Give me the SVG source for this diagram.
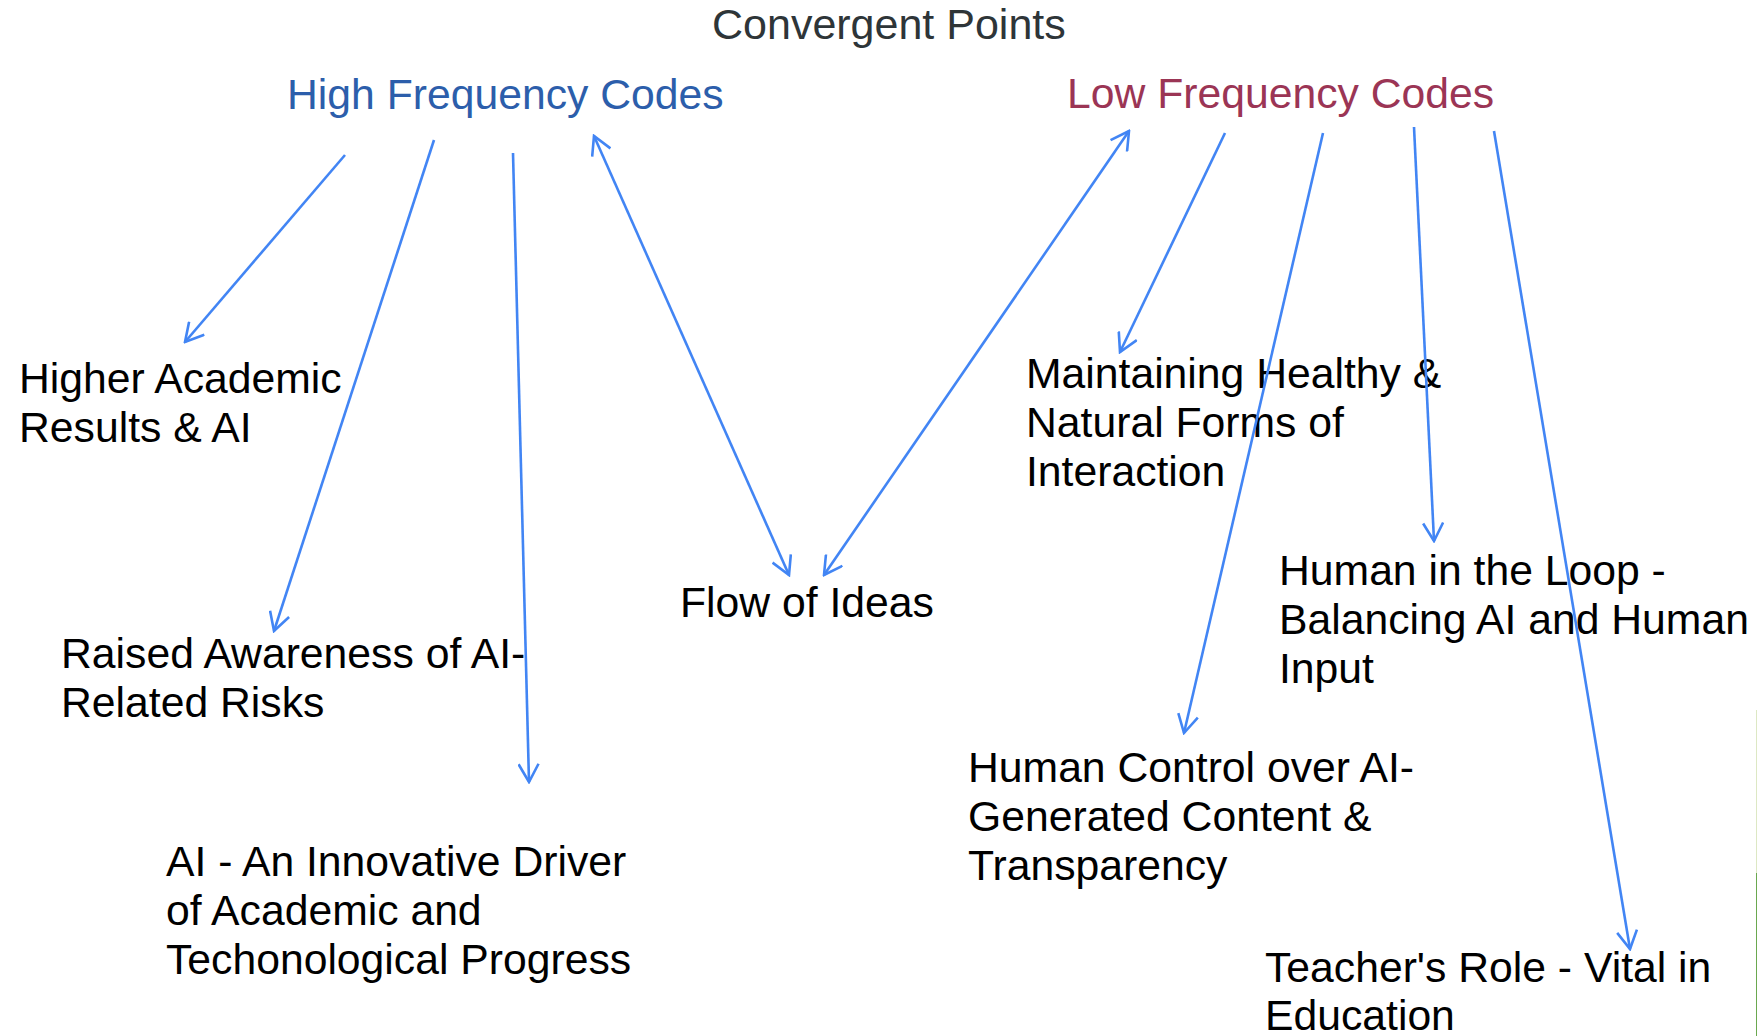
<svg xmlns="http://www.w3.org/2000/svg" width="1757" height="1036" viewBox="0 0 1757 1036">
<style>
  text { font-family: "Liberation Sans", Arial, sans-serif; font-size: 42.7px; fill: #000; }
  .title { fill: #2e3538; font-size: 43px; }
  .high { fill: #2c5eab; }
  .low { fill: #9b3555; }
  .conn line { stroke: #4285f4; stroke-width: 2.6; fill: none; }
</style>
<defs>
  <marker id="arr" viewBox="0 0 22 22" refX="20" refY="11" markerWidth="22" markerHeight="22" markerUnits="userSpaceOnUse" orient="auto-start-reverse">
    <path d="M2,1 L20,11 L2,21" fill="none" stroke="#4285f4" stroke-width="2.6"/>
  </marker>
</defs>
<rect width="1757" height="1036" fill="#fff"/>

<g id="title"><text class="title" x="712" y="39">Convergent Points</text></g>
<g id="high-frequency-codes"><text class="high" x="287" y="109">High Frequency Codes</text></g>
<g id="low-frequency-codes"><text class="low" x="1067" y="108">Low Frequency Codes</text></g>

<g id="higher-academic-results"><text x="19" y="393">Higher Academic<tspan x="19" dy="49">Results &amp; AI</tspan></text></g>
<g id="raised-awareness"><text x="61" y="668">Raised Awareness of AI-<tspan x="61" dy="49">Related Risks</tspan></text></g>
<g id="ai-innovative-driver"><text x="166" y="876">AI - An Innovative Driver<tspan x="166" dy="49">of Academic and</tspan><tspan x="166" dy="49">Techonological Progress</tspan></text></g>
<g id="flow-of-ideas"><text x="680" y="617">Flow of Ideas</text></g>
<g id="maintaining-healthy"><text x="1026" y="388">Maintaining Healthy &amp;<tspan x="1026" dy="49">Natural Forms of</tspan><tspan x="1026" dy="49">Interaction</tspan></text></g>
<g id="human-in-the-loop"><text x="1279" y="585">Human in the Loop -<tspan x="1279" dy="49">Balancing AI and Human</tspan><tspan x="1279" dy="49">Input</tspan></text></g>
<g id="human-control"><text x="968" y="782">Human Control over AI-<tspan x="968" dy="49">Generated Content &amp;</tspan><tspan x="968" dy="49">Transparency</tspan></text></g>
<g id="teachers-role"><text x="1265" y="982">Teacher's Role - Vital in<tspan x="1265" dy="48">Education</tspan></text></g>

<g id="connectors" class="conn">
  <line x1="345" y1="155" x2="185" y2="342" marker-end="url(#arr)"/>
  <line x1="434" y1="140" x2="274" y2="631" marker-end="url(#arr)"/>
  <line x1="513" y1="153" x2="529" y2="782" marker-end="url(#arr)"/>
  <line x1="594" y1="136" x2="789" y2="575" marker-start="url(#arr)" marker-end="url(#arr)"/>
  <line x1="1129" y1="131" x2="824" y2="575" marker-start="url(#arr)" marker-end="url(#arr)"/>
  <line x1="1225" y1="133" x2="1120" y2="352" marker-end="url(#arr)"/>
  <line x1="1323" y1="133" x2="1184" y2="733" marker-end="url(#arr)"/>
  <line x1="1414" y1="127" x2="1434" y2="541" marker-end="url(#arr)"/>
  <line x1="1494" y1="131" x2="1630" y2="949" marker-end="url(#arr)"/>
</g>

<rect x="1756" y="710" width="1" height="163" fill="#dde8c4"/>
<rect x="1756" y="873" width="1" height="163" fill="#6aa84f"/>
</svg>
